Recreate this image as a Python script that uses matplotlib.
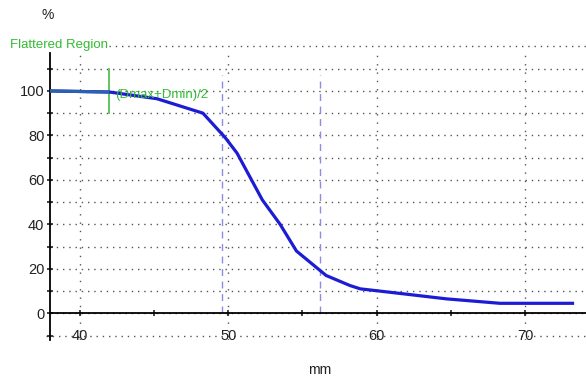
import matplotlib
matplotlib.use("Agg")
import matplotlib.pyplot as plt

plt.rcParams['font.family'] = ['Liberation Sans', 'DejaVu Sans']

# Profile along the scan (position in mm, relative signal in %)
x_mm = [38.0, 42.0, 45.2, 48.3, 49.8, 50.6, 52.3, 53.5, 54.6, 56.6, 58.2, 58.9, 61.5, 64.7, 68.3, 73.3]
y_pct = [100, 99.5, 96.5, 90, 79, 72, 51, 40, 28, 17, 12.5, 11, 9, 6.5, 4.5, 4.5]

flat_end = 42.0          # end of the flattened region
half_left = 49.6         # dashed markers
half_right = 56.2

x_ticks = [40, 45, 50, 55, 60, 65, 70]
x_tick_labels = ["40", "", "50", "", "60", "", "70"]
y_ticks = list(range(-10, 120, 10))
y_tick_labels = [str(v) if (v >= 0 and v % 20 == 0) else "" for v in y_ticks]
grid_rows = list(range(-10, 130, 10))
grid_cols = [40, 50, 60, 70]

fig = plt.figure(figsize=(5.86, 3.77), dpi=100)
ax = fig.add_axes([50 / 586, 37 / 377, 536 / 586, 298 / 377])
ax.set_xlim(38.0, 74.1)
ax.set_ylim(-12, 122)

for s in ("top", "right"):
    ax.spines[s].set_visible(False)
ax.spines["left"].set_bounds(-12, 117)
ax.spines["left"].set_linewidth(1.3)
ax.spines["bottom"].set_position(("data", 0))
ax.spines["bottom"].set_linewidth(1.3)

ax.set_xticks(x_ticks)
ax.set_xticklabels(x_tick_labels)
ax.set_yticks(y_ticks)
ax.set_yticklabels(y_tick_labels)
ax.tick_params(axis="both", direction="inout", length=5, width=1.2, labelsize=10.5, colors="#222222")
ax.tick_params(axis="y", pad=1.5)
ax.tick_params(axis="x", pad=9)

dot = (0, (1, 3.5))
for v in grid_rows:
    x0 = 42.0 if v == 120 else (37.7 if v == -10 else 38.0)
    ax.plot([x0, 74.1], [v, v], color="#555555", lw=1.0, ls=dot, zorder=1, clip_on=False)
for c in grid_cols:
    ax.plot([c, c], [-12, 117], color="#555555", lw=1.0, ls=(0, (1, 5)), zorder=1)

for xv in (half_left, half_right):
    ax.plot([xv, xv], [0, 107], color="#8c8ce0", lw=1.0, ls=(0, (5, 4)), zorder=2)

ax.plot([flat_end, flat_end], [90, 110], color="#44bb44", lw=1.2, zorder=3)

ax.plot(x_mm, y_pct, color="#1c1cd4", lw=2.3, zorder=4, solid_capstyle="butt")
flat_x = [x for x in x_mm if x <= flat_end]
flat_y = y_pct[:len(flat_x)]
ax.plot(flat_x, flat_y, color="#2a62b0", lw=2.3, zorder=5, solid_capstyle="butt")

ax.text(flat_end + 0.4, 98.3, "(Dmax+Dmin)/2", color="#33bb33", fontsize=9.5,
        va="center", ha="left", zorder=6)
fig.text(10 / 586, 1 - 45 / 377, "Flattered Region", color="#33bb33", fontsize=9.5,
         va="center", ha="left")
fig.text(48 / 586, 1 - 15 / 377, "%", color="#222222", fontsize=10, va="center", ha="center")
fig.text(320 / 586, 1 - 370 / 377, "mm", color="#222222", fontsize=10, va="center", ha="center")

fig.savefig("out.png", dpi=100)
